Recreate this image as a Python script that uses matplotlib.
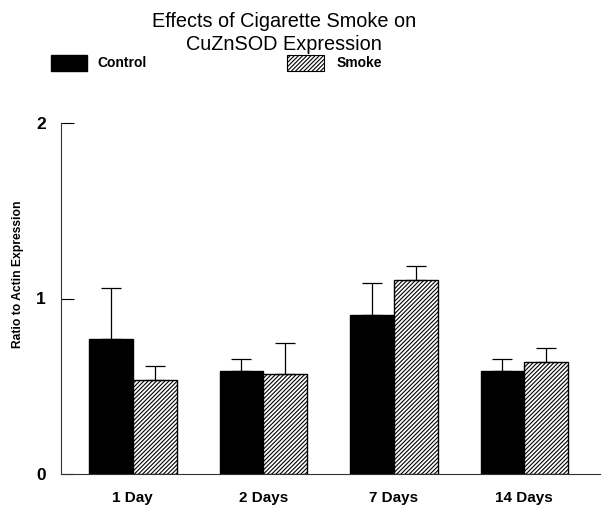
import numpy as np
import matplotlib.pyplot as plt
from matplotlib.patches import Rectangle

plt.rcParams['font.family'] = ['Liberation Sans', 'DejaVu Sans']
plt.rcParams['hatch.linewidth'] = 0.8

# Data
groups = ['1 Day', '2 Days', '7 Days', '14 Days']
control = [0.767, 0.587, 0.907, 0.587]
control_err = [0.293, 0.070, 0.180, 0.070]
smoke = [0.534, 0.572, 1.106, 0.636]
smoke_err = [0.081, 0.174, 0.080, 0.080]

fig = plt.figure(figsize=(6.09, 5.05), dpi=100)
ax = fig.add_axes([61/609, 1 - 474/505, (600 - 61)/609, (474 - 123)/505])

x = np.arange(len(groups))
w = 0.335
ax.bar(x - w/2, control, w, color='black', edgecolor='black', linewidth=1,
       yerr=[np.zeros(len(groups)), control_err], capsize=7,
       error_kw=dict(ecolor='black', elinewidth=0.9, capthick=0.9))
ax.bar(x + w/2, smoke, w, color='white', edgecolor='black', linewidth=1,
       hatch='////////',
       yerr=[np.zeros(len(groups)), smoke_err], capsize=7,
       error_kw=dict(ecolor='black', elinewidth=0.9, capthick=0.9))

ax.set_xlim(-0.55, 3.58)
ax.set_ylim(0, 2)
ax.set_yticks([0, 1, 2])
ax.set_yticklabels(['0', '1', '2'], fontsize=12.5, fontweight='bold')
ax.tick_params(axis='y', direction='in', length=9, width=0.8, pad=11)
ax.set_xticks(x)
ax.set_xticklabels(groups, fontsize=11, fontweight='bold')
ax.tick_params(axis='x', length=0, pad=12)
for s in ['top', 'right']:
    ax.spines[s].set_visible(False)
for s in ['left', 'bottom']:
    ax.spines[s].set_linewidth(0.8)
    ax.spines[s].set_color('#333333')
ax.set_ylabel('Ratio to Actin Expression', fontsize=8.7, fontweight='bold')
ax.yaxis.set_label_coords(-0.068, 0.57)

# Title
fig.text(0.467, 1 - 12/505, 'Effects of Cigarette Smoke on\nCuZnSOD Expression',
         ha='center', va='top', fontsize=14.3, linespacing=1.3)

# Legend drawn by hand
fig.add_artist(Rectangle((51/609, 1 - 71/505), 36/609, 16/505,
                         transform=fig.transFigure, facecolor='black', edgecolor='black'))
fig.text(97/609, 1 - 63/505, 'Control', ha='left', va='center', fontsize=10, fontweight='bold')
fig.add_artist(Rectangle((287/609, 1 - 71/505), 37/609, 16/505,
                         transform=fig.transFigure, facecolor='white', edgecolor='black',
                         hatch='////////', linewidth=0.8))
fig.text(337/609, 1 - 63/505, 'Smoke', ha='left', va='center', fontsize=10, fontweight='bold')

fig.savefig('out.png', dpi=100)
